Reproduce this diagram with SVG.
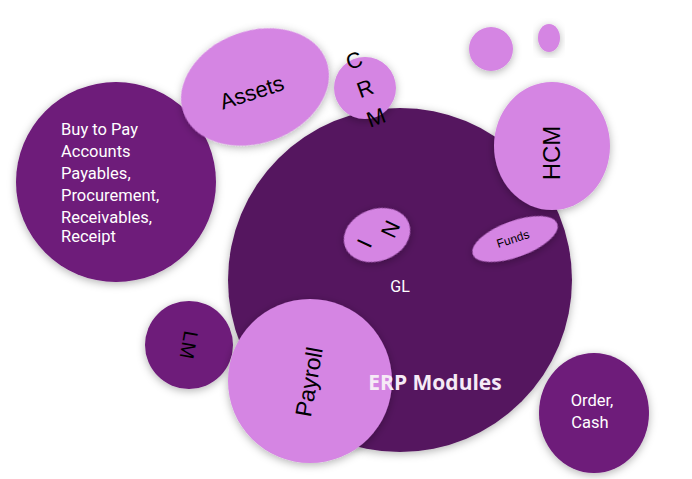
<svg xmlns="http://www.w3.org/2000/svg" width="692" height="479" viewBox="0 0 692 479">
<defs>
<filter id="sh" x="-20%" y="-20%" width="140%" height="140%"><feDropShadow dx="0" dy="2" stdDeviation="4" flood-color="#000" flood-opacity="0.3"/></filter>
<style>
.l{fill:#d585e3;filter:url(#sh)}
.m{fill:#6e1a7a;filter:url(#sh)}
.d{fill:#54165e;filter:url(#sh)}
text{font-family:"Roboto","Liberation Sans",sans-serif}
.b{fill:#000;font-family:"Liberation Sans",Arial,sans-serif}
.w{fill:#fff}
.e{fill:#f6eaf6;font-family:"Open Sans","Liberation Sans",sans-serif;font-weight:bold}
</style>
</defs>
<g id="erp"><circle class="d" cx="400" cy="280" r="172"/><text class="w" x="400" y="292" font-size="16" text-anchor="middle">GL</text></g>
<g id="buy"><circle class="m" cx="116" cy="182" r="100"/><text class="w" font-size="16.5"><tspan x="61" y="135">Buy to Pay</tspan><tspan x="61" y="157">Accounts</tspan><tspan x="61" y="179">Payables,</tspan><tspan x="61" y="201">Procurement,</tspan><tspan x="61" y="223">Receivables,</tspan><tspan x="61" y="242">Receipt</tspan></text></g>
<g id="assets"><ellipse class="l" cx="255" cy="87" rx="76" ry="56" transform="rotate(-20 255 87)"/><text class="b" x="252" y="100" font-size="22" text-anchor="middle" transform="rotate(-18 252 93)">Assets</text></g>
<g id="crm"><circle class="l" cx="365" cy="88" r="31"/>
<text class="b" x="354" y="68" font-size="22" text-anchor="middle" transform="rotate(-20 354 60)">C</text>
<text class="b" x="365" y="96" font-size="22" text-anchor="middle" transform="rotate(-20 365 88)">R</text>
<text class="b" x="376" y="125" font-size="22" text-anchor="middle" transform="rotate(-20 376 117)">M</text></g>
<g id="dot1"><circle class="l" cx="491" cy="49" r="22"/></g>
<g id="dot2"><ellipse class="l" cx="549" cy="38" rx="11" ry="14"/></g>
<g id="hcm"><ellipse class="l" cx="552" cy="146" rx="58" ry="64"/><text class="b" x="552" y="161" font-size="24" text-anchor="middle" transform="rotate(-90 552 153)">HCM</text></g>
<g id="ini"><ellipse class="l" cx="377" cy="235" rx="34" ry="26" transform="rotate(-20 377 235)"/>
<text class="b" x="364" y="251" font-size="22" text-anchor="middle" transform="rotate(-65 364 243)">I</text>
<text class="b" x="390" y="237" font-size="22" text-anchor="middle" transform="rotate(-65 390 229)">N</text></g>
<g id="funds"><ellipse class="l" cx="515" cy="239" rx="45" ry="18" transform="rotate(-20 515 239)"/><text class="b" x="513" y="243" font-size="12" text-anchor="middle" transform="rotate(-18 513 239)">Funds</text></g>
<g id="lm"><circle class="m" cx="189" cy="345" r="44"/><text class="b" x="189" y="352" font-size="20" text-anchor="middle" transform="rotate(100 189 345)">LM</text></g>
<g id="payroll"><circle class="l" cx="310" cy="381" r="82"/><text class="b" x="310" y="389" font-size="23" text-anchor="middle" transform="rotate(-80 310 382)">Payroll</text></g>
<g id="erplabel"><text class="e" x="435" y="390" font-size="21" text-anchor="middle">ERP Modules</text></g>
<g id="order"><ellipse class="m" cx="594" cy="413" rx="55" ry="60"/><text class="w" font-size="16.5" text-anchor="middle"><tspan x="592" y="406">Order,</tspan><tspan x="590" y="428">Cash</tspan></text></g>
<g id="connectors"/>
</svg>
